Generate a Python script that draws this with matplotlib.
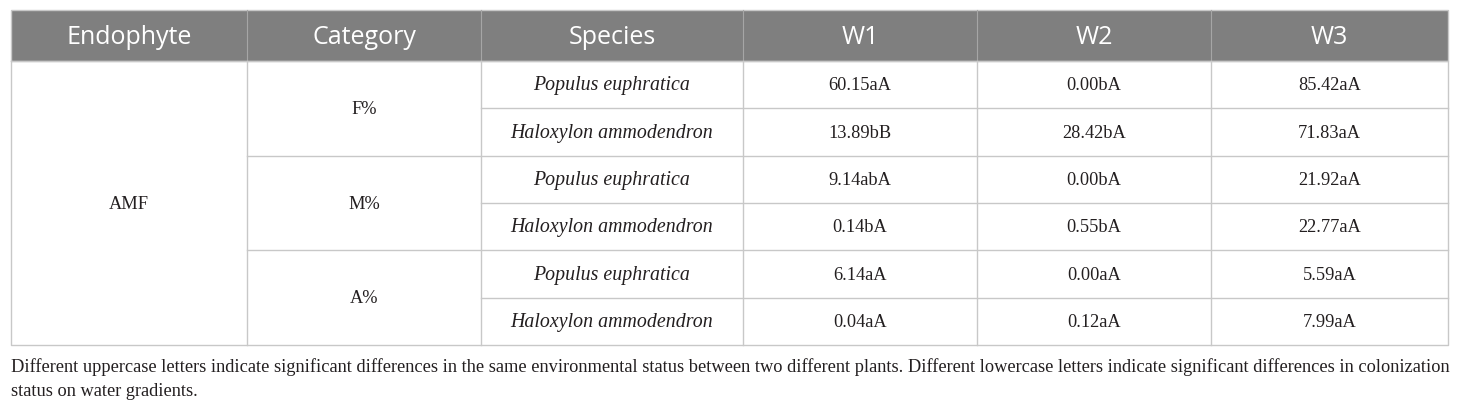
import matplotlib.pyplot as plt
from matplotlib.patches import Rectangle

# table content
headers = ["Endophyte", "Category", "Species", "W1", "W2", "W3"]
endophyte = "AMF"
categories = ["F%", "M%", "A%"]
species = ["Populus euphratica", "Haloxylon ammodendron"]
w1 = ["60.15aA", "13.89bB", "9.14abA", "0.14bA", "6.14aA", "0.04aA"]
w2 = ["0.00bA", "28.42bA", "0.00bA", "0.55bA", "0.00aA", "0.12aA"]
w3 = ["85.42aA", "71.83aA", "21.92aA", "22.77aA", "5.59aA", "7.99aA"]
caption = ["Different uppercase letters indicate significant differences in the same environmental status between two different plants. "
           "Different lowercase letters indicate significant differences in colonization",
           "status on water gradients."]

# layout (pixels)
W, H = 1460, 410
col_edges = [11, 247, 481, 743, 977, 1211, 1448]
head_top, head_bot = 11, 62
row_h = 47.35
line_col = "#c8c8c8"
head_col = "#7f7f7f"
txt_col = "#231f20"
serif = ["Liberation Serif", "DejaVu Serif"]

fig = plt.figure(figsize=(W / 100, H / 100), dpi=100)
ax = fig.add_axes([0, 0, 1, 1])
ax.set_xlim(0, W)
ax.set_ylim(H, 0)
ax.axis("off")

left, right = col_edges[0], col_edges[-1]
n_rows = len(w1)
bottom = head_bot + n_rows * row_h

# header band
ax.add_patch(Rectangle((left, head_top), right - left, head_bot - head_top,
                       facecolor=head_col, edgecolor=line_col, lw=1))
for i, h in enumerate(headers):
    cx = (col_edges[i] + col_edges[i + 1]) / 2
    ax.text(cx, (head_top + head_bot) / 2 + 1, h, color="white", fontsize=18,
            family=["Open Sans", "DejaVu Sans"], ha="center", va="center")
for x in col_edges[1:-1]:
    ax.plot([x, x], [head_top, head_bot], color="#a6a6a6", lw=0.8)

# outer frame and vertical lines of the body
ax.plot([left, right, right, left, left], [head_bot, head_bot, bottom, bottom, head_bot],
        color=line_col, lw=1)
for x in col_edges[1:-1]:
    ax.plot([x, x], [head_bot, bottom], color=line_col, lw=1)

# horizontal row lines
for r in range(1, n_rows):
    y = head_bot + r * row_h
    x0 = col_edges[1] if r % 2 == 0 else col_edges[2]
    ax.plot([x0, right], [y, y], color=line_col, lw=1)

# body text
fs = 13.2
ax.text((col_edges[0] + col_edges[1]) / 2, (head_bot + bottom) / 2, endophyte,
        family=serif, fontsize=fs, color=txt_col, ha="center", va="center")
for g, c in enumerate(categories):
    cy = head_bot + (2 * g + 1) * row_h
    ax.text((col_edges[1] + col_edges[2]) / 2, cy, c,
            family=serif, fontsize=fs, color=txt_col, ha="center", va="center")
for r in range(n_rows):
    cy = head_bot + (r + 0.5) * row_h
    ax.text((col_edges[2] + col_edges[3]) / 2, cy, species[r % 2], style="italic",
            family=serif, fontsize=14.3, color=txt_col, ha="center", va="center")
    for j, vals in enumerate([w1, w2, w3]):
        ax.text((col_edges[3 + j] + col_edges[4 + j]) / 2, cy, vals[r],
                family=serif, fontsize=fs, color=txt_col, ha="center", va="center")

# footnote
for k, line in enumerate(caption):
    ax.text(left, 372 + k * 24, line, family=serif, fontsize=13.2, color=txt_col,
            ha="left", va="baseline")

fig.savefig("out.png", dpi=100)
